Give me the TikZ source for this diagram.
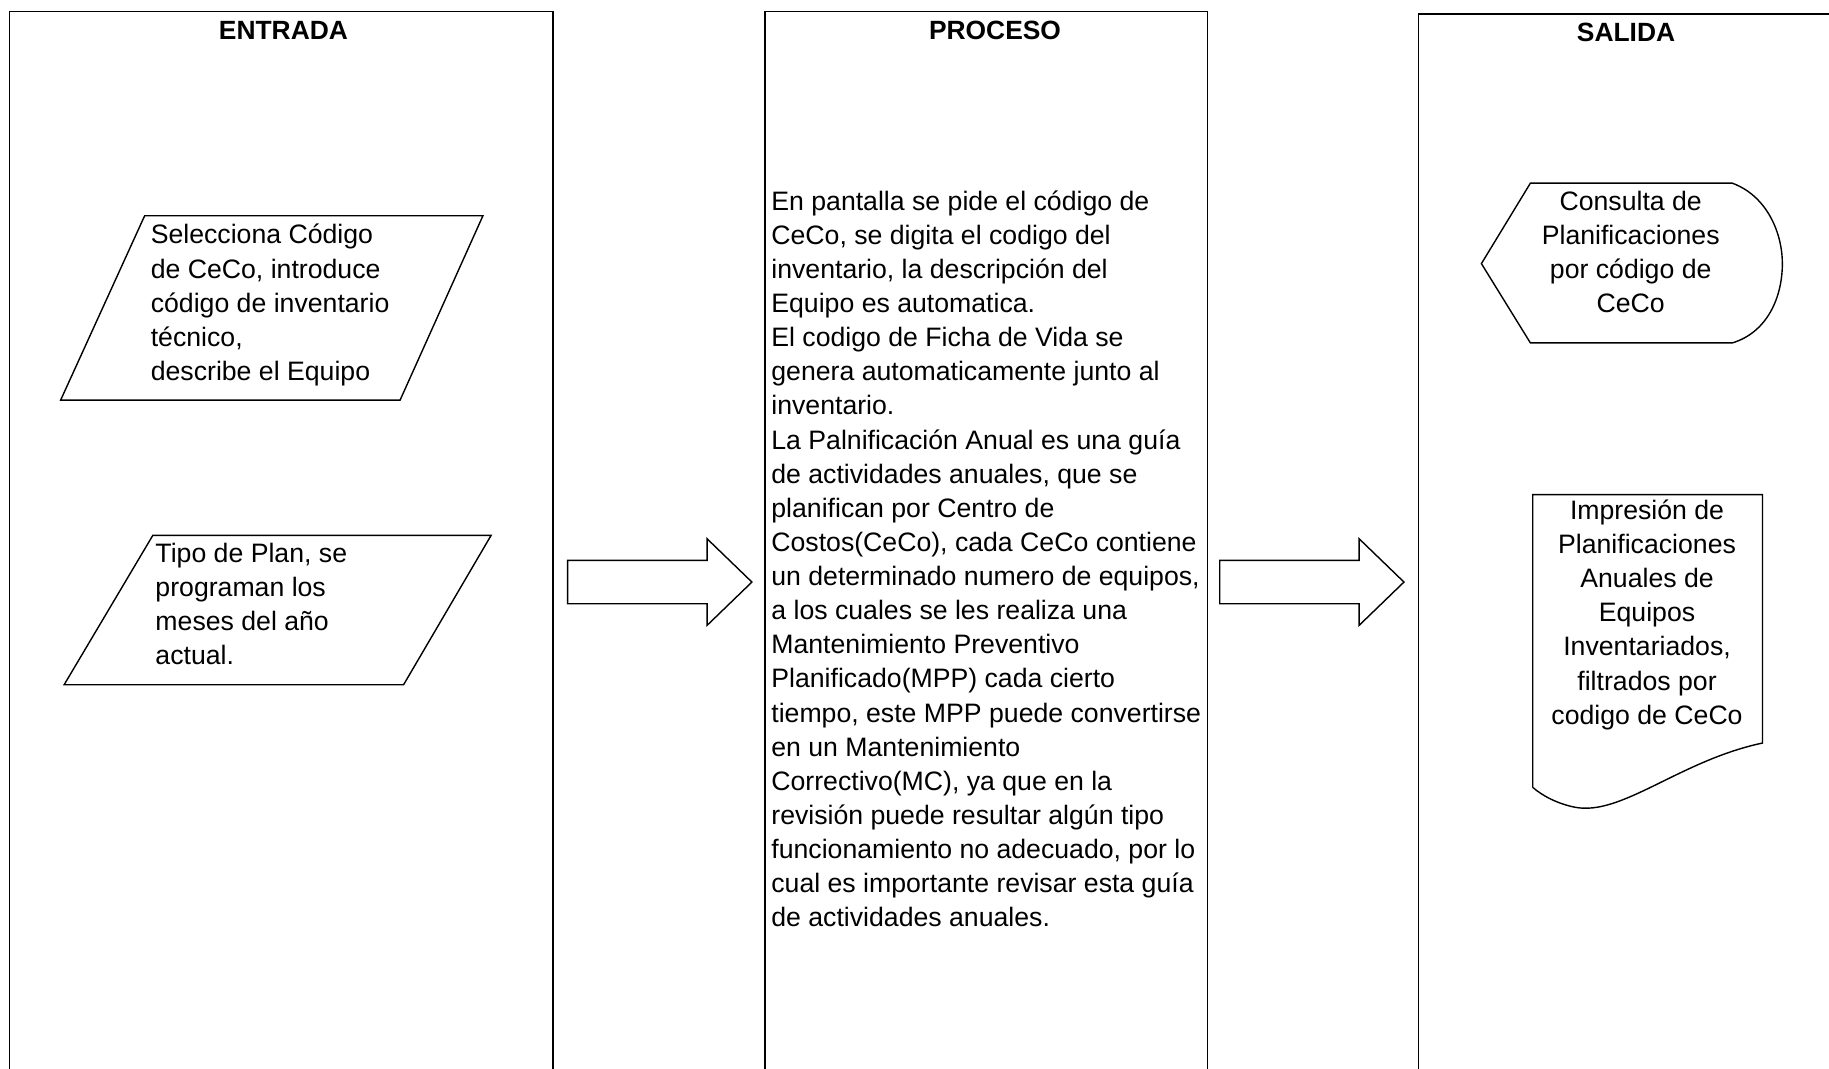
\documentclass[tikz,border=0pt]{standalone}
\usepackage{fontspec}
\setmainfont{Liberation Sans}
\usetikzlibrary{shapes.arrows}

\begin{document}
\begin{tikzpicture}[
    x=0.0233cm, y=-0.0233cm,   % one unit = one pixel of the sketch
    column/.style = {draw, line width=0.8pt},
    outline/.style = {draw, line width=0.8pt},
    header/.style = {font=\fontsize{15}{18}\selectfont\bfseries, inner sep=0pt},
    body/.style = {
        font=\fontsize{15.15}{19.4}\selectfont,
        inner sep=0pt, align=left, anchor=north west
    },
    bodyc/.style = {
        font=\fontsize{15.15}{19.4}\selectfont,
        inner sep=0pt, align=center
    },
    bigarrow/.style = {
        single arrow, draw, line width=0.8pt,
        inner xsep=0pt, inner ysep=0.42cm,
        minimum height=3.68cm, minimum width=1.70cm,
        single arrow head extend=0.43cm, single arrow tip angle=88
    }
]
\useasboundingbox (0,0) rectangle (1568,916);

% --- Columns ---
\draw[column] (8,930) rectangle (474,10);
\draw[column] (656,930) rectangle (1035,10);
\draw[column] (1216,930) rectangle (1600,12);

\node[header] (entrada) at (243,26) {ENTRADA};
\node[header] (proceso) at (853,26) {PROCESO};
\node[header] (salida)  at (1394,28) {SALIDA};

% --- Entrada ---
\draw[outline] (124,185) -- (414,185) -- (343,343) -- (52,343) -- cycle;
\node[body] (selcode) at (129,192)
    {Selecciona Código\\de CeCo, introduce\\código de inventario\\técnico,\\describe el Equipo};

\draw[outline] (131,459) -- (421,459) -- (346,587) -- (55,587) -- cycle;
\node[body] (tipoplan) at (133,465)
    {Tipo de Plan, se\\programan los\\meses del año\\actual.};

% --- Proceso ---
\node[body] (desc) at (661,163)
    {En pantalla se pide el código de\\
     CeCo, se digita el codigo del\\
     inventario, la descripción del\\
     Equipo es automatica.\\
     El codigo de Ficha de Vida se\\
     genera automaticamente junto al\\
     inventario.\\
     La Palnificación Anual es una guía\\
     de actividades anuales, que se\\
     planifican por Centro de\\
     Costos(CeCo), cada CeCo contiene\\
     un determinado numero de equipos,\\
     a los cuales se les realiza una\\
     Mantenimiento Preventivo\\
     Planificado(MPP) cada cierto\\
     tiempo, este MPP puede convertirse\\
     en un Mantenimiento\\
     Correctivo(MC), ya que en la\\
     revisión puede resultar algún tipo\\
     funcionamiento no adecuado, por lo\\
     cual es importante revisar esta guía\\
     de actividades anuales.};

% --- Salida ---
\draw[outline] (1312,157) -- (1485,157)
    .. controls (1515,168) and (1528,200) .. (1528,226)
    .. controls (1528,255) and (1515,285) .. (1485,294)
    -- (1312,294) -- (1270,226) -- cycle;
\node[bodyc] (consulta) at (1398,216)
    {Consulta de\\Planificaciones\\por código de\\CeCo};

\draw[outline] (1314,675) -- (1314,424) -- (1511,424) -- (1511,637)
    .. controls (1440,652) and (1390,700) .. (1350,692)
    .. controls (1335,689) and (1322,682) .. (1314,675);
\node[bodyc] (impresion) at (1412,527)
    {Impresión de\\Planificaciones\\Anuales de\\Equipos\\Inventariados,\\filtrados por\\codigo de CeCo};

% --- Flow arrows ---
\node[bigarrow] (flow1) at (556,499) {};
\node[bigarrow] (flow2) at (1115,499) {};

\end{tikzpicture}
\end{document}
